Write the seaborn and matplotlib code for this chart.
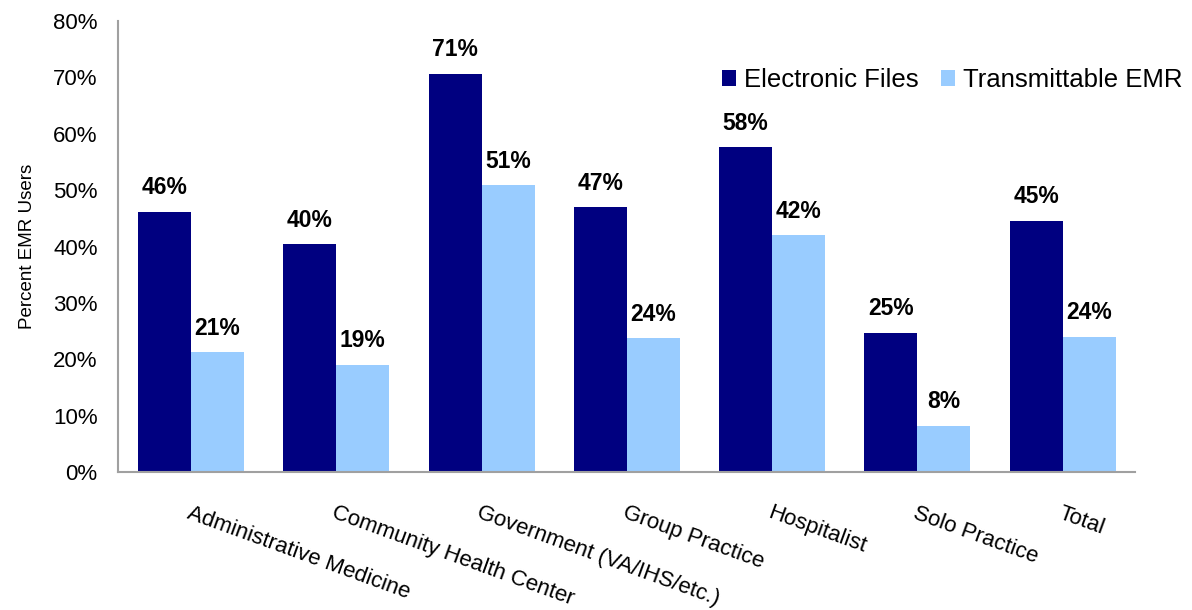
import pandas as pd
import matplotlib
matplotlib.use('Agg')
import matplotlib.pyplot as plt
import seaborn as sns

# 数据
categories = ['Administrative Medicine', 'Community Health Center',
              'Government (VA/IHS/etc.)', 'Group Practice', 'Hospitalist',
              'Solo Practice', 'Total']
electronic_files = [46.2, 40.4, 70.6, 47.0, 57.6, 24.7, 44.6]
transmittable_emr = [21.2, 19.0, 50.9, 23.7, 42.0, 8.2, 24.0]
series_names = ['Electronic Files', 'Transmittable EMR']
y_ticks = [0, 10, 20, 30, 40, 50, 60, 70, 80]

df = pd.DataFrame({
    'cat': categories * 2,
    'series': [series_names[0]] * len(categories) + [series_names[1]] * len(categories),
    'val': electronic_files + transmittable_emr,
})

sns.set_style('white')
plt.rcParams['font.family'] = ['Liberation Sans', 'DejaVu Sans']
plt.rcParams['text.color'] = 'black'
plt.rcParams['xtick.color'] = 'black'
plt.rcParams['ytick.color'] = 'black'
plt.rcParams['axes.labelcolor'] = 'black'

fig = plt.figure(figsize=(11.92, 6.10), dpi=100)
ax = fig.add_axes([0.0993, 0.2262, 0.8531, 0.7394])

sns.barplot(data=df, x='cat', y='val', hue='series', order=categories,
            hue_order=series_names, palette=['#000080', '#99CCFF'],
            width=0.73, saturation=1, errorbar=None, linewidth=0, ax=ax)

# 数据标签
for cont in ax.containers:
    ax.bar_label(cont, fmt='{:.0f}%', padding=9, fontsize=16.5,
                 fontweight='bold', color='black')

ax.set_xlim(-0.5, 6.5)
ax.set_ylim(0, 80)
ax.set_yticks(y_ticks)
ax.set_yticklabels([f'{v}%' for v in y_ticks], fontsize=16)
ax.tick_params(axis='y', length=0, pad=15)
ax.tick_params(axis='x', length=0, pad=22)
ax.set_xticks(range(len(categories)))
ax.set_xticklabels(categories, rotation=-20, ha='left', va='top',
                   rotation_mode='anchor', fontsize=16)
ax.set_xlabel('')
ax.set_ylabel('Percent EMR Users', fontsize=13.5, labelpad=12)

for s in ['top', 'right']:
    ax.spines[s].set_visible(False)
for s in ['left', 'bottom']:
    ax.spines[s].set_color('#a0a0a0')
    ax.spines[s].set_linewidth(1.5)

ax.legend(loc='center right', bbox_to_anchor=(1182 / 1192, 1 - 80 / 610),
          bbox_transform=fig.transFigure, ncol=2, frameon=False, fontsize=18.5,
          handlelength=0.55, handleheight=0.6, handletextpad=0.3,
          columnspacing=0.85, borderaxespad=0, borderpad=0)

fig.savefig('out.png', dpi=100)
